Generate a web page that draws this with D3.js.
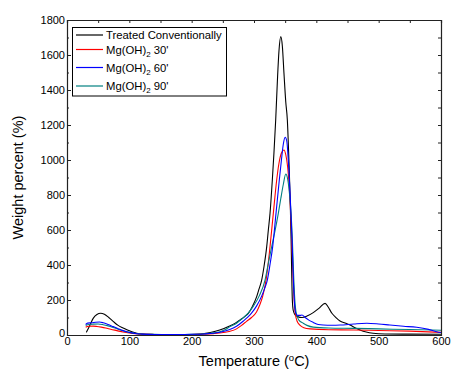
<!DOCTYPE html>
<html>
<head>
<meta charset="utf-8">
<script src="https://cdn.jsdelivr.net/npm/d3@7"></script>
<style>
  html, body { margin: 0; padding: 0; background: #fff; }
  svg { display: block; font-family: "Liberation Sans", Arial, sans-serif; }
</style>
</head>
<body>
<svg id="chart" width="451" height="369"></svg>
<script>
// ---- Data ----
const seriesNames = ["Treated Conventionally", "Mg(OH)2 30'", "Mg(OH)2 60'", "Mg(OH)2 90'"];
const seriesColors = ["#000000", "#ff0000", "#0000ff", "#008080"];

const treatedConventionally = [
  [31,15],[36,50],[42,95],[48,117],[54,124],[60,118],[67,100],[74,78],[82,55],[90,40],[96,30],[104,18],[112,10],[120,6],
  [140,3],[160,2],[180,2],[200,3],[215,6],[230,14],[245,28],[260,50],[270,68],[277.6,86],[285,105],[290.9,124],[297,160],
  [304.3,219],[308,262],[312.3,314],[316,390],[320.4,505],[323,600],[325.7,695],[329.4,886],[332,1040],[334.8,1229],
  [337.5,1450],[340,1620],[343,1705],[345.5,1650],[348,1500],[351,1330],[353.5,1229],[356,1000],[358,780],[359.5,550],
  [360.5,350],[361.5,200],[363,140],[366,115],[370,105],[377,100],[385,108],[395,128],[405,155],[414,181],[419,160],
  [425,124],[432,98],[438,80],[446,68],[454,57],[462,42],[470,29],[480,17],[491,10],[510,6],[550,5],[600,4]
];
const mgOH30 = [
  [30,45],[35,50],[42,51],[48,49],[55,45],[62,40],[70,33],[80,25],[90,17],[100,11],[110,7],[120,5],[140,3],[160,3],
  [180,3],[200,3],[220,5],[235,8],[245,11],[260,20],[272,35],[280,55],[288,78],[296,100],[304,132],
  [309,170],[314,222],[319.3,314],[322.5,400],[325.7,505],[331,695],[336.4,886],[340,980],[344,1040],[348,1057],
  [351,1030],[354,960],[357,820],[360,600],[362,400],[364,230],[366,130],[369,80],[374,55],[380,42],[390,35],[420,30],
  [460,29],[500,26],[550,22],[600,15]
];
const mgOH60 = [
  [30,60],[33,68],[40,70],[46,73],[52,74],[58,70],[66,60],[74,48],[82,36],[90,25],[96,19],[104,12],[112,7],[120,5],
  [140,3],[160,3],[180,3],[200,4],[220,6],[235,10],[245.5,16],[260,30],[272,50],[283,80],[290,102],[296.3,126],[304,165],
  [312.3,222],[317,265],[321.4,314],[326,410],[330,505],[335.3,695],[340.6,886],[344,1000],[347,1090],[350,1130],
  [352.5,1110],[355,1000],[358,800],[361,550],[363,330],[365,180],[367,125],[370,112],[374,112],[377,114],[382,100],
  [388,85],[395,72],[403,60],[411,57],[425,56],[438,57],[460,63],[481,67],[500,63],[518,57],[540,50],[561,44],[580,32],
  [593,19],[600,14]
];
const mgOH90 = [
  [30,55],[35,60],[42,62],[50,63],[58,59],[66,52],[74,43],[82,33],[90,24],[100,15],[110,9],[120,6],[140,4],[160,3],
  [180,3],[200,4],[220,7],[235,12],[245.5,19],[255,33],[261.5,48],[272,67],[277.6,84],[284,102],[291,126],[299,165],
  [308.6,225],[317.7,314],[323,410],[328.4,505],[334,600],[339,695],[343,780],[347,860],[351,920],[353.5,900],[356,840],
  [359,720],[361.5,550],[363.5,350],[365.5,200],[368,120],[372,85],[379,67],[385,55],[395,45],[420,40],[460,38],
  [500,35],[550,31],[600,27]
];
const xTicks = [0, 100, 200, 300, 400, 500, 600];
const yTicks = [0, 200, 400, 600, 800, 1000, 1200, 1400, 1600, 1800];
const xLabel = "Temperature (°C)";
const yLabel = "Weight percent (%)";

// ---- Layout ----
const svg = d3.select("#chart");
const mLeft = 67, mRight = 441, mTop = 20, mBottom = 335;
const x = d3.scaleLinear().domain([0, 600]).range([mLeft, mRight]);
const y = d3.scaleLinear().domain([0, 1800]).range([mBottom, mTop]);

const allSeries = [treatedConventionally, mgOH30, mgOH60, mgOH90];

// Curves
const line = d3.line().x(d => x(d[0])).y(d => y(d[1])).curve(d3.curveMonotoneX);
const plot = svg.append("g");
const drawOrder = [0, 1, 3, 2];
drawOrder.forEach(i => {
  plot.append("path")
    .datum(allSeries[i])
    .attr("fill", "none")
    .attr("stroke", seriesColors[i])
    .attr("stroke-width", 1.1)
    .attr("d", line);
});

// Axes
const axisColor = "#222";
const fs = 11;
const leftAxis = svg.append("g").attr("transform", `translate(${mLeft},0)`)
  .call(d3.axisLeft(y).tickValues(yTicks).tickSize(-4).tickPadding(6).tickFormat(d3.format("d")));
leftAxis.select(".domain").attr("stroke", axisColor).attr("stroke-width", 1.2);
leftAxis.selectAll(".tick line").attr("stroke", axisColor);
leftAxis.selectAll(".tick text").attr("font-size", fs).attr("fill", "#000").attr("x", -2);
leftAxis.selectAll(".tick text").filter(d => d === 0).attr("dy", "0.15em");
svg.append("g").attr("transform", `translate(${mLeft},0)`)
  .call(d3.axisLeft(y).tickValues(d3.range(100, 1800, 200)).tickSize(-2).tickFormat(""))
  .call(g => g.select(".domain").remove())
  .selectAll(".tick line").attr("stroke", axisColor);

const bottomAxis = svg.append("g").attr("transform", `translate(0,${mBottom})`)
  .call(d3.axisBottom(x).tickValues(xTicks).tickSize(0).tickPadding(2).tickFormat(d3.format("d")));
bottomAxis.select(".domain").attr("stroke", axisColor).attr("stroke-width", 1.2);
bottomAxis.selectAll(".tick text").attr("font-size", fs).attr("fill", "#000");

const topAxis = svg.append("g").attr("transform", `translate(0,${mTop})`)
  .call(d3.axisTop(x).tickValues(d3.range(0, 601, 50)).tickSize(-3).tickFormat(""));
topAxis.select(".domain").attr("stroke", axisColor).attr("stroke-width", 1.2);
topAxis.selectAll(".tick line").attr("stroke", axisColor);

const rightAxis = svg.append("g").attr("transform", `translate(${mRight},0)`)
  .call(d3.axisRight(y).tickValues(d3.range(0, 1801, 100)).tickSize(-3).tickFormat(""));
rightAxis.select(".domain").attr("stroke", axisColor).attr("stroke-width", 1.2);
rightAxis.selectAll(".tick line").attr("stroke", axisColor);

svg.selectAll(".tick text").attr("font-family", "Liberation Sans, Arial, sans-serif");

// Axis titles
const xt = svg.append("text")
  .attr("x", (mLeft + mRight) / 2).attr("y", 366)
  .attr("text-anchor", "middle").attr("font-size", 14.5);
xt.append("tspan").text("Temperature (");
xt.append("tspan").attr("dy", -5).attr("font-size", 9.5).text("o");
xt.append("tspan").attr("dy", 5).text("C)");
svg.append("text")
  .attr("transform", `translate(23,${(mTop + mBottom) / 2}) rotate(-90)`)
  .attr("text-anchor", "middle").attr("font-size", 14.5)
  .text(yLabel);

// Legend
const lg = svg.append("g");
lg.append("rect").attr("x", 72.5).attr("y", 27.5).attr("width", 154).attr("height", 68.5)
  .attr("fill", "#fff").attr("stroke", "#000").attr("stroke-width", 1);
const rowY = [35, 49.5, 67.5, 86];
seriesNames.forEach((name, i) => {
  lg.append("line").attr("x1", 76).attr("x2", 103).attr("y1", rowY[i]).attr("y2", rowY[i])
    .attr("stroke", seriesColors[i]).attr("stroke-width", 1.2);
  const t = lg.append("text").attr("x", 106).attr("y", rowY[i] + 4).attr("font-size", 11.3);
  const m = name.match(/^(Mg\(OH\))2(.*)$/);
  if (m) {
    t.append("tspan").text(m[1]);
    t.append("tspan").attr("dy", 3).attr("font-size", 8).text("2");
    t.append("tspan").attr("dy", -3).text(m[2]);
  } else {
    t.text(name);
  }
});
</script>
</body>
</html>
